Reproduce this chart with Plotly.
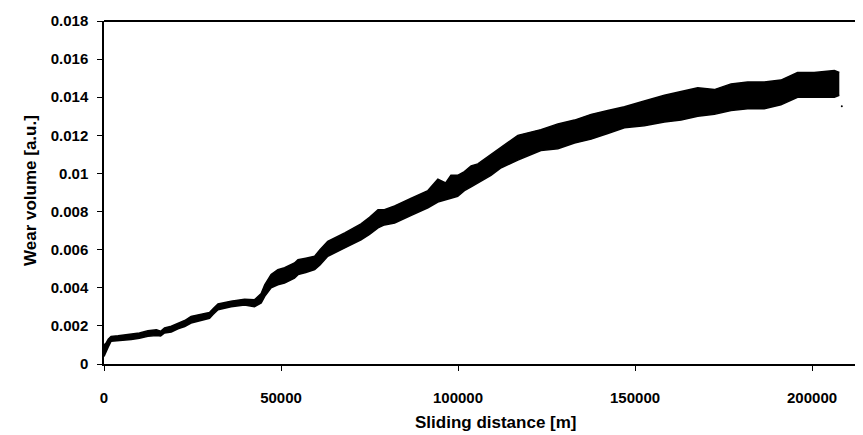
import plotly.graph_objects as go

# Sliding distance [m] and band envelope of wear volume [a.u.]
distance = [0, 600, 1200, 2000, 4000, 7700, 10000, 12400, 14800, 16000, 17100, 19000,
            20900, 22800, 24600, 26500, 28400, 29800, 30800, 32200, 35900, 39700,
            42500, 44400, 45400, 47200, 49100, 51000, 53800, 54800, 57000, 59500,
            61000, 63200, 68000, 72600, 75000, 77400, 79200, 82100, 86800, 91500,
            94300, 96500, 98000, 99900, 101800, 103700, 105600, 109300, 112200,
            116900, 123400, 128200, 132900, 137600, 142300, 147000, 152600, 158300,
            163000, 167700, 172400, 177100, 181800, 186500, 191200, 195900, 200600,
            206300, 207700]
wear_low = [0.0004, 0.0007, 0.0009, 0.0012, 0.00122, 0.00128, 0.00135, 0.00145, 0.0015,
            0.00147, 0.00163, 0.00168, 0.00185, 0.00197, 0.00215, 0.00225, 0.00233,
            0.0024, 0.0026, 0.00285, 0.0030, 0.0031, 0.0030, 0.0032, 0.00355, 0.0040,
            0.00416, 0.00425, 0.0045, 0.00469, 0.0048, 0.00495, 0.0052, 0.00565,
            0.00609, 0.00652, 0.0068, 0.00714, 0.0073, 0.0074, 0.0078, 0.0082, 0.0085,
            0.0086, 0.0087, 0.0088, 0.0091, 0.0093, 0.0095, 0.0099, 0.0103, 0.0107,
            0.0112, 0.0113, 0.0116, 0.0118, 0.0121, 0.0124, 0.0125, 0.0127, 0.0128,
            0.0130, 0.0131, 0.0133, 0.0134, 0.0134, 0.0136, 0.0140, 0.0140, 0.0140,
            0.0141]
wear_high = [0.0010, 0.0011, 0.0013, 0.00145, 0.00148, 0.00157, 0.00163, 0.00175, 0.0018,
             0.00172, 0.00189, 0.00198, 0.00215, 0.00228, 0.0025, 0.00256, 0.00262,
             0.0027, 0.0029, 0.00315, 0.0033, 0.0034, 0.00337, 0.0037, 0.00416, 0.0047,
             0.00495, 0.00505, 0.0053, 0.00547, 0.00555, 0.00565, 0.0060, 0.00644,
             0.00688, 0.00735, 0.0077, 0.0081, 0.0081, 0.0083, 0.0087, 0.0091, 0.0097,
             0.0095, 0.0099, 0.0099, 0.0101, 0.0104, 0.0105, 0.0110, 0.0114, 0.0120,
             0.0123, 0.0126, 0.0128, 0.0131, 0.0133, 0.0135, 0.0138, 0.0141, 0.0143,
             0.0145, 0.0144, 0.0147, 0.0148, 0.0148, 0.0149, 0.0153, 0.0153, 0.0154,
             0.0153]
stray_x = [208400]
stray_y = [0.01353]

x_ticks = [0, 50000, 100000, 150000, 200000]
x_labels = ["0", "50000", "100000", "150000", "200000"]
y_ticks = [0, 0.002, 0.004, 0.006, 0.008, 0.01, 0.012, 0.014, 0.016, 0.018]
y_labels = ["0", "0.002", "0.004", "0.006", "0.008", "0.01", "0.012", "0.014", "0.016", "0.018"]

FONT = "Liberation Sans, Arial, sans-serif"

fig = go.Figure()
fig.add_trace(go.Scatter(x=distance, y=wear_low, mode="lines",
                         line=dict(color="black", width=1.5), showlegend=False,
                         hoverinfo="skip"))
fig.add_trace(go.Scatter(x=distance, y=wear_high, mode="lines",
                         line=dict(color="black", width=1.5), fill="tonexty",
                         fillcolor="black", showlegend=False))
fig.add_trace(go.Scatter(x=stray_x, y=stray_y, mode="markers",
                         marker=dict(color="black", size=2), showlegend=False))

fig.update_layout(
    width=863, height=435,
    margin=dict(l=96, r=0, t=13, b=79),
    paper_bgcolor="white", plot_bgcolor="white",
    font=dict(family=FONT, color="black"),
    xaxis=dict(range=[0, 216650], tickvals=x_ticks, ticktext=x_labels,
               ticks="outside", ticklen=5, tickcolor="black", tickwidth=1,
               showline=True, linecolor="black", linewidth=1.5,
               showgrid=False, zeroline=False, ticklabelstandoff=14,
               tickfont=dict(family=FONT, size=15, weight="bold", color="black")),
    yaxis=dict(range=[0, 0.018], tickvals=y_ticks, ticktext=y_labels,
               ticks="outside", ticklen=5, tickcolor="black", tickwidth=1,
               showline=True, linecolor="black", linewidth=1.5,
               showgrid=False, zeroline=False, ticklabelstandoff=6,
               tickfont=dict(family=FONT, size=15, weight="bold", color="black")),
    shapes=[dict(type="line", xref="paper", yref="paper", x0=0, x1=1, y0=1, y1=1,
                 line=dict(color="black", width=2))],
    annotations=[
        dict(text="Sliding distance [m]", xref="paper", yref="paper",
             x=(488 - 96) / 767, y=(356 - 414) / 343, xanchor="center", yanchor="middle",
             showarrow=False, font=dict(family=FONT, size=17, weight="bold", color="black")),
        dict(text="Wear volume [a.u.]", xref="paper", yref="paper",
             x=(22 - 96) / 767, y=(356 - 183) / 343, xanchor="center", yanchor="middle",
             textangle=-90, showarrow=False,
             font=dict(family=FONT, size=17, weight="bold", color="black")),
    ],
)

fig.write_html("out.html")
